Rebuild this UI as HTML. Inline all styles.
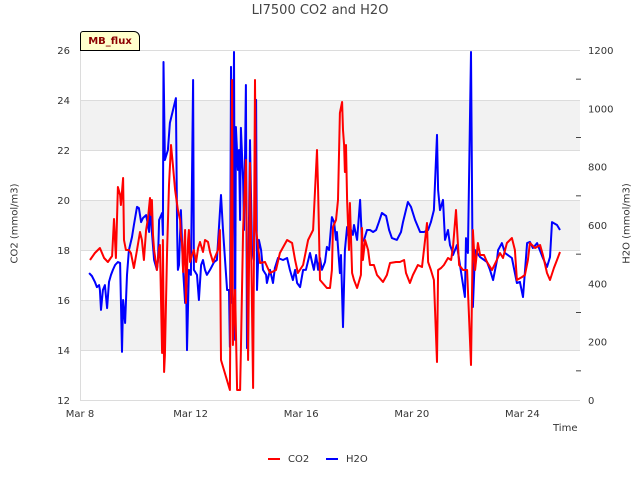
<!DOCTYPE html>
<html><head><meta charset="utf-8"><style>
body{margin:0;background:#fff;font-family:"DejaVu Sans",sans-serif}
</style></head><body>
<svg id="c" width="640" height="480" xmlns="http://www.w3.org/2000/svg" font-family="DejaVu Sans, sans-serif">
</svg>
<script>
const co2Days=[0.36,0.54,0.72,0.87,1.01,1.16,1.23,1.30,1.37,1.45,1.48,1.56,1.59,1.66,1.77,1.84,1.95,2.06,2.17,2.24,2.31,2.39,2.46,2.53,2.57,2.60,2.64,2.68,2.78,2.86,2.89,2.97,3.00,3.04,3.07,3.15,3.22,3.29,3.36,3.44,3.54,3.62,3.65,3.69,3.73,3.80,3.83,3.91,3.94,3.98,4.05,4.12,4.20,4.27,4.34,4.45,4.52,4.63,4.70,4.81,4.99,5.06,5.10,5.42,5.50,5.53,5.61,5.68,5.79,5.82,5.90,6.00,6.08,6.15,6.26,6.33,6.37,6.51,6.69,6.87,7.09,7.23,7.49,7.67,7.78,7.88,8.07,8.25,8.43,8.57,8.61,8.68,8.93,9.04,9.11,9.15,9.26,9.33,9.40,9.48,9.51,9.55,9.58,9.62,9.66,9.73,9.76,9.84,9.91,10.02,10.16,10.20,10.23,10.31,10.42,10.49,10.63,10.74,10.96,11.10,11.21,11.43,11.57,11.72,11.79,11.93,12.04,12.22,12.37,12.55,12.59,12.69,12.80,12.91,12.95,13.06,13.16,13.31,13.42,13.49,13.60,13.71,13.85,14.00,14.14,14.21,14.29,14.39,14.47,14.61,14.72,14.90,15.04,15.19,15.30,15.44,15.62,15.73,15.80,15.99,16.09,16.20,16.27,16.46,16.64,16.74,16.89,17.00,17.14,17.25,17.36];
const co2Vals=[17.6,17.88,18.08,17.68,17.52,17.76,19.24,17.68,20.52,20.2,19.8,20.88,18.4,18.0,18.0,17.88,17.28,18.0,18.72,18.4,17.6,18.8,19.28,20.08,19.4,20.0,18.6,18.0,17.2,18.08,18.2,13.88,18.4,13.12,13.8,18.0,20.6,22.2,21.4,20.4,19.6,19.2,18.6,18.28,17.12,18.8,15.88,18.4,18.8,17.52,17.8,18.0,17.52,18.08,18.32,17.92,18.4,18.32,17.92,17.52,18.0,18.8,13.6,12.4,24.8,14.2,16.4,12.4,12.4,14.0,18.8,21.6,13.6,21.48,12.48,24.8,18.8,17.48,17.52,17.08,17.2,17.88,18.4,18.28,17.6,17.08,17.4,18.4,18.8,22.0,20.4,16.8,16.48,16.48,17.2,18.92,19.2,20.0,23.48,23.92,22.8,22.2,21.12,22.2,20.0,18.0,19.88,17.08,16.8,16.48,17.0,18.88,17.6,18.4,18.0,17.4,17.4,17.0,16.72,17.0,17.48,17.52,17.52,17.6,17.08,16.68,17.0,17.4,17.32,19.08,17.52,17.2,16.8,13.52,17.2,17.28,17.4,17.68,17.6,18.12,19.6,17.4,17.2,17.2,13.4,18.8,17.2,18.28,17.8,17.8,17.52,17.2,17.52,17.88,17.68,18.28,18.48,18.0,16.8,16.92,17.0,17.6,18.28,18.08,18.2,17.8,17.08,16.8,17.28,17.6,17.92];
const h2oDays=[0.33,0.43,0.54,0.61,0.69,0.72,0.76,0.83,0.90,0.98,1.05,1.12,1.19,1.27,1.37,1.45,1.52,1.56,1.63,1.70,1.77,1.88,1.95,2.06,2.13,2.21,2.28,2.39,2.46,2.50,2.53,2.60,2.68,2.78,2.82,2.86,2.97,3.00,3.02,3.07,3.18,3.25,3.47,3.51,3.54,3.58,3.65,3.73,3.80,3.83,3.87,3.94,4.01,4.09,4.12,4.23,4.30,4.38,4.45,4.52,4.59,4.70,4.85,4.95,5.10,5.17,5.32,5.39,5.42,5.46,5.50,5.57,5.61,5.64,5.71,5.75,5.79,5.82,5.90,5.93,5.97,6.00,6.04,6.08,6.15,6.22,6.29,6.37,6.40,6.47,6.55,6.62,6.73,6.76,6.87,6.98,7.05,7.16,7.34,7.49,7.59,7.70,7.78,7.85,7.96,8.07,8.17,8.32,8.39,8.46,8.54,8.61,8.68,8.75,8.86,8.93,9.01,9.11,9.19,9.26,9.29,9.40,9.44,9.51,9.58,9.66,9.73,9.80,9.87,9.91,10.02,10.13,10.20,10.27,10.38,10.49,10.60,10.71,10.81,10.92,11.07,11.18,11.28,11.46,11.61,11.68,11.86,11.97,12.12,12.30,12.44,12.59,12.69,12.80,12.91,12.95,13.02,13.13,13.20,13.31,13.38,13.45,13.49,13.63,13.92,13.96,14.03,14.14,14.21,14.29,14.47,14.72,14.83,14.94,15.08,15.12,15.26,15.37,15.62,15.73,15.80,15.91,16.02,16.17,16.27,16.38,16.53,16.74,16.89,17.00,17.07,17.25,17.36];
const h2oVals=[435,425,405,387,394,377,309,377,394,315,405,429,446,463,473,470,165,343,264,429,514,559,600,662,658,610,624,634,600,576,662,576,480,446,480,617,641,566,1159,823,857,950,1035,583,446,463,651,446,333,463,171,446,429,1097,446,429,343,463,480,446,429,446,473,480,703,583,377,377,182,1142,333,1193,206,936,789,857,617,933,754,583,857,1080,178,377,891,514,480,1029,377,549,514,446,429,401,446,401,453,487,480,487,446,411,446,401,387,446,446,504,473,446,497,446,487,446,473,525,514,627,610,549,576,435,497,250,514,593,549,583,566,600,549,686,542,549,583,583,576,583,610,641,631,583,555,549,576,610,679,662,617,576,576,583,610,651,909,720,651,686,549,583,531,514,497,531,353,555,504,1193,319,514,490,473,446,411,480,514,538,504,487,435,401,405,353,538,542,521,538,487,456,490,610,600,583];
const xTickDays=[0,4,8,12,16];
const xTickLabels=["Mar 8","Mar 12","Mar 16","Mar 20","Mar 24"];
const leftTicks=[12,14,16,18,20,22,24,26];
const rightTicks=[0,200,400,600,800,1000,1200];

const svg=document.getElementById('c');
const NS='http://www.w3.org/2000/svg';
const X0=80,X1=580,Y0=50,Y1=400;
const xs=d=>X0+d*27.65;
const yL=v=>Y1-(v-12)/14*(Y1-Y0);
const yR=v=>Y1-v/1200*(Y1-Y0);
function mk(tag,attrs,parent){const e=document.createElementNS(NS,tag);for(const k in attrs)e.setAttribute(k,attrs[k]);(parent||svg).appendChild(e);return e;}

const bands=mk('g',{});


for(let v=14;v<26;v+=4){mk('rect',{x:X0,y:yL(v+2),width:X1-X0,height:yL(v)-yL(v+2),fill:'#f2f2f2'},bands);}
const grid=mk('g',{stroke:'#dcdcdc','stroke-width':1});


leftTicks.forEach(v=>mk('line',{x1:X0,x2:X1,y1:yL(v)+.5,y2:yL(v)+.5},grid));
mk('line',{x1:X0+.5,x2:X0+.5,y1:Y0,y2:Y1,stroke:'#dcdcdc'});

const lt=mk('g',{'font-size':10,fill:'#333','text-anchor':'end'});


leftTicks.forEach(v=>{const t=mk('text',{x:70,y:yL(v)+4},lt);t.textContent=v;});
const rt=mk('g',{'font-size':10,fill:'#333'});


rightTicks.forEach(v=>{const t=mk('text',{x:588,y:yR(v)+4},rt);t.textContent=v;});
for(let v=100;v<1200;v+=200){mk('line',{x1:576,x2:581,y1:yR(v),y2:yR(v),stroke:'#444'},rt);}
const xt=mk('g',{'font-size':10,fill:'#333','text-anchor':'middle'});


xTickDays.forEach((d,i)=>{const t=mk('text',{x:xs(d),y:417},xt);t.textContent=xTickLabels[i];});

function line(days,vals,yf,col,name){
  const p=mk('polyline',{points:days.map((d,i)=>xs(d).toFixed(1)+','+yf(vals[i]).toFixed(1)).join(' '),fill:'none',stroke:col,'stroke-width':2,'stroke-linejoin':'round'});
  
  
}
line(h2oDays,h2oVals,yR,'#0000ff','h2o-line');
line(co2Days,co2Vals,yL,'#ff0000','co2-line');
</script>
<div style="position:absolute;left:0;top:0;width:640px;height:480px;pointer-events:none">
<div style="position:absolute;left:0;width:640px;top:3px;text-align:center;font-size:13px;color:#444">LI7500 CO2 and H2O</div>
<div style="position:absolute;left:-35px;top:218px;width:100px;text-align:center;font-size:10px;color:#333;transform:rotate(-90deg)">CO2 (mmol/m3)</div>
<div style="position:absolute;left:577px;top:218px;width:100px;text-align:center;font-size:10px;color:#333;transform:rotate(-90deg)">H2O (mmol/m3)</div>
<div style="position:absolute;left:553px;top:423px;font-size:10px;color:#333">Time</div>
<div style="position:absolute;left:80px;top:31px;width:58px;height:18px;background:#ffffcc;border:1px solid #000;border-radius:3px 6px 0 0;font-size:10px;font-weight:bold;color:#8b0000;line-height:19px;text-align:center">MB_flux</div>
<div style="position:absolute;left:268px;top:454px;font-size:10px;color:#333"><span style="display:inline-block;width:12px;height:2px;background:#f00;vertical-align:middle;margin-right:8px"></span>CO2</div>
<div style="position:absolute;left:326px;top:454px;font-size:10px;color:#333"><span style="display:inline-block;width:12px;height:2px;background:#00f;vertical-align:middle;margin-right:8px"></span>H2O</div>
</div>
</body></html>
